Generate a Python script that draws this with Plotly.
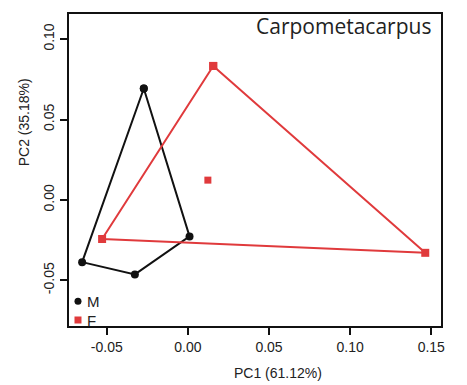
import plotly.graph_objects as go

# PCA scores
male_pc1 = [-0.0272, 0.0010, -0.0327, -0.0652, -0.0272]
male_pc2 = [0.0693, -0.0227, -0.0463, -0.0387, 0.0693]

female_pc1 = [0.0156, 0.1463, -0.0529, 0.0156]
female_pc2 = [0.0833, -0.0329, -0.0243, 0.0833]

female_inner_pc1 = [0.0123]
female_inner_pc2 = [0.0123]

x_ticks = [-0.05, 0.00, 0.05, 0.10, 0.15]
y_ticks = [-0.05, 0.00, 0.05, 0.10]

RED = "#e03a3c"
BLACK = "#111111"
FONT = "Liberation Sans, Arial, sans-serif"

fig = go.Figure()

fig.add_trace(
    go.Scatter(
        x=male_pc1,
        y=male_pc2,
        mode="lines+markers",
        line=dict(color=BLACK, width=2),
        marker=dict(color=BLACK, size=8, symbol="circle"),
        showlegend=False,
    )
)
fig.add_trace(
    go.Scatter(
        x=female_pc1,
        y=female_pc2,
        mode="lines+markers",
        line=dict(color=RED, width=2),
        marker=dict(color=RED, size=8, symbol="square"),
        showlegend=False,
    )
)
fig.add_trace(
    go.Scatter(
        x=female_inner_pc1,
        y=female_inner_pc2,
        mode="markers",
        marker=dict(color=RED, size=7, symbol="square"),
        showlegend=False,
    )
)

# legend-only glyphs; the labels are placed as annotations next to them
fig.add_trace(
    go.Scatter(
        x=[None], y=[None], mode="markers", name=" ", legend="legend",
        marker=dict(color=BLACK, size=7, symbol="circle"),
    )
)
fig.add_trace(
    go.Scatter(
        x=[None], y=[None], mode="markers", name=" ", legend="legend2",
        marker=dict(color=RED, size=7, symbol="square"),
    )
)

axis_common = dict(
    showgrid=False,
    zeroline=False,
    showline=True,
    linecolor=BLACK,
    linewidth=2,
    mirror=True,
    ticks="outside",
    ticklen=7,
    tickwidth=2,
    tickcolor=BLACK,
    tickfont=dict(family=FONT, size=14, color="#222222"),
)

legend_common = dict(
    xanchor="left",
    yanchor="middle",
    bgcolor="rgba(0,0,0,0)",
    font=dict(family=FONT, size=10),
    itemwidth=30,
)

legend_label = dict(
    xref="paper", yref="paper",
    x=0.044,
    xanchor="left", yanchor="middle",
    showarrow=False,
    font=dict(family=FONT, size=15, color="#222222"),
)

fig.update_layout(
    width=467,
    height=385,
    margin=dict(l=69, r=26, t=12, b=59),
    paper_bgcolor="white",
    plot_bgcolor="white",
    showlegend=True,
    legend=dict(x=-0.0296, y=0.0796, **legend_common),
    legend2=dict(x=-0.0296, y=0.0191, **legend_common),
    xaxis=dict(
        range=[-0.0733, 0.156],
        tickvals=x_ticks,
        ticktext=[f"{v:.2f}" for v in x_ticks],
        **axis_common,
    ),
    yaxis=dict(
        range=[-0.0784, 0.1156],
        tickvals=y_ticks,
        ticktext=[f"{v:.2f}" for v in y_ticks],
        tickangle=-90,
        **axis_common,
    ),
    annotations=[
        dict(
            text="Carpometacarpus",
            xref="paper", yref="paper",
            x=0.979, y=0.96,
            xanchor="right", yanchor="middle",
            showarrow=False,
            font=dict(family="Open Sans, sans-serif", size=21, color="#222222"),
        ),
        dict(text="M", y=0.0796, **legend_label),
        dict(text="F", y=0.0191, **legend_label),
        dict(
            text="PC1 (61.12%)",
            xref="paper", yref="paper",
            x=0.562, y=-0.15,
            xanchor="center", yanchor="middle",
            showarrow=False,
            font=dict(family=FONT, size=14, color="#222222"),
        ),
        dict(
            text="PC2 (35.18%)",
            xref="paper", yref="paper",
            x=-0.121, y=0.653,
            xanchor="center", yanchor="middle",
            textangle=-90,
            showarrow=False,
            font=dict(family=FONT, size=14, color="#222222"),
        ),
    ],
)

fig.write_html(
    "out.html",
    config={"displayModeBar": False},
    post_script="document.body.style.margin='0';",
)
